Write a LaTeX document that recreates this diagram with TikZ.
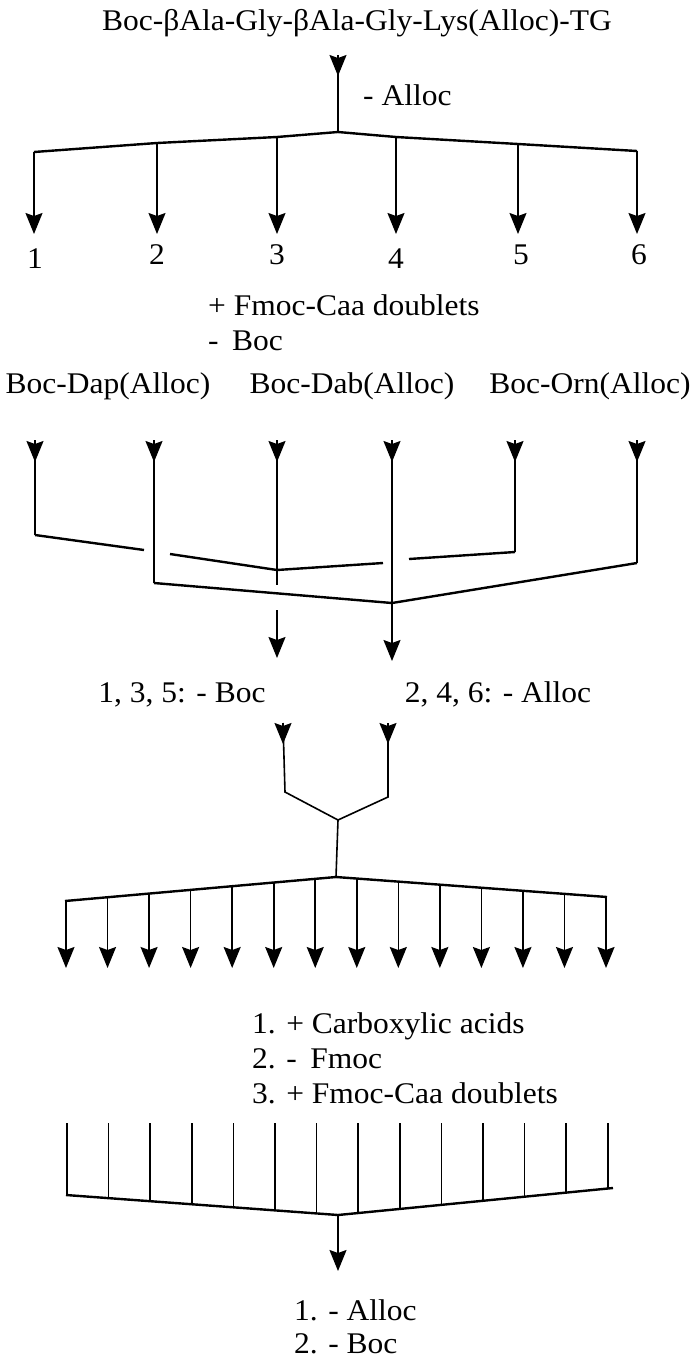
\documentclass[tikz,border=0pt]{standalone}
\usepackage{fontspec}
\setmainfont{Liberation Serif}[FakeStretch=1.05]
\usetikzlibrary{arrows.meta}
\begin{document}
\begin{tikzpicture}[x=1pt,y=-1pt,
  lbl/.style={font=\fontsize{30}{35}\selectfont, inner sep=0pt},
  ln/.style={line width=1.6pt},
  br/.style={line width=2.4pt, line join=round},
  head/.style={-{Stealth[length=21pt,width=17pt,inset=3pt]}, line width=1.6pt},
]
\useasboundingbox[fill=white] (0,0) rectangle (690,1358);

% ---------- title and first split ----------
\node[lbl, anchor=base] (title) at (357,30) {Boc-βAla-Gly-βAla-Gly-Lys(Alloc)-TG};
\coordinate (t0) at (338,55);
\coordinate (apex1) at (338,132);
\draw[ln] (t0) -- (apex1);
\draw[head] (t0) -- ++(0,21);
\node[lbl, anchor=base west] (alloc1) at (363,105) {- Alloc};

\coordinate (b1) at (34,152);
\coordinate (b2) at (157,143);
\coordinate (b3) at (277,137);
\coordinate (b4) at (396,137);
\coordinate (b5) at (518,144);
\coordinate (b6) at (637,151);
\draw[br] (b1) -- (b2) -- (b3) -- (apex1) -- (b4) -- (b5) -- (b6);
\foreach \i/\nx/\ny in {1/35/268,2/157/264,3/277/264,4/396/268,5/521/264,6/639/264}{
  \coordinate (e\i) at (b\i |- 0,234);
  \draw[head] (b\i) -- (e\i);
  \node[lbl, anchor=base] (n\i) at (\nx,\ny) {\i};
}

\node[lbl, anchor=base west] (fmoc1) at (208,315) {+ Fmoc-Caa doublets};
\node[lbl, anchor=base west] (boc1) at (208,350) {-\hspace{0.45em}Boc};
\node[lbl, anchor=base] (dap) at (108,393) {Boc-Dap(Alloc)};
\node[lbl, anchor=base] (dab) at (352,393) {Boc-Dab(Alloc)};
\node[lbl, anchor=base] (orn) at (590,393) {Boc-Orn(Alloc)};

% ---------- second section ----------
\foreach \i/\x in {1/35,2/154,3/277,4/392,5/515,6/637}{
  \coordinate (s\i) at (\x,440);
}
\coordinate (g1) at (35,535);
\coordinate (g1e) at (144,550);
\coordinate (m1) at (170,554);
\coordinate (m2) at (277,570);
\coordinate (m3) at (383,563);
\coordinate (r1) at (409,559);
\coordinate (r2) at (515,552);
\coordinate (k1) at (154,583);
\coordinate (k2) at (392,603);
\coordinate (k3) at (637,563);
\coordinate (s3e) at (277,585);
\draw[br] (g1) -- (g1e);
\draw[br] (m1) -- (m2) -- (m3);
\draw[br] (r1) -- (r2);
\draw[br] (k1) -- (k2) -- (k3);
\draw[ln] (s3) -- (s3e);
\draw[ln] (s4) -- (k2);
\draw[ln] (s1) -- (g1);
\draw[ln] (s2) -- (k1);
\draw[ln] (s5) -- (r2);
\draw[ln] (s6) -- (k3);
\foreach \i in {1,...,6}{
  \draw[head] (s\i) -- ++(0,22);
}
\coordinate (d1) at (277,610);
\coordinate (d1e) at (277,658);
\coordinate (d2e) at (392,661);
\draw[head] (d1) -- (d1e);
\draw[head] (k2) -- (d2e);

\node[lbl, anchor=base] (odd) at (182,702) {1, 3, 5: - Boc};
\node[lbl, anchor=base] (even) at (498,702) {2, 4, 6: - Alloc};

% ---------- recombination ----------
\coordinate (y1) at (283,723);
\coordinate (y1b) at (285,792);
\coordinate (y2) at (388,723);
\coordinate (y2b) at (388,797);
\coordinate (yj) at (338,820);
\coordinate (apex3) at (336,877);
\draw[ln] (y1) -- (y1b) -- (yj) -- (y2b) -- (y2);
\draw[ln] (yj) -- (apex3);
\draw[head] (y1) -- ++(0,21);
\draw[head] (y2) -- ++(0,21);

\coordinate (L3) at (65,901);
\coordinate (R3) at (607,897);
\draw[br] (L3) -- (apex3) -- (R3);
\foreach \i in {0,...,13}{
  \pgfmathsetmacro\xx{66+\i*41.54}
  \pgfmathsetmacro\yy{\xx<=336 ? 901-(\xx-65)*24/271 : 877+(\xx-336)*20/271}
  \coordinate (p\i) at (\xx,\yy);
  \coordinate (q\i) at (\xx,968);
  \draw[head] (p\i) -- (q\i);
}

\node[lbl, anchor=base west] (st1) at (252,1033) {1. + Carboxylic acids};
\node[lbl, anchor=base west] (st2) at (252,1068) {2. -\hspace{0.45em}Fmoc};
\node[lbl, anchor=base west] (st3) at (252,1103) {3. + Fmoc-Caa doublets};

% ---------- final pooling ----------
\coordinate (L4) at (66,1195);
\coordinate (A4) at (338,1215);
\coordinate (R4) at (613,1188);
\foreach \i in {0,...,13}{
  \pgfmathsetmacro\xx{67+\i*41.6}
  \pgfmathsetmacro\yy{\xx<=338 ? 1195+(\xx-66)*20/272 : 1215-(\xx-338)*27/275}
  \coordinate (u\i) at (\xx,1123);
  \coordinate (v\i) at (\xx,\yy);
  \draw[ln] (u\i) -- (v\i);
}
\draw[br] (L4) -- (A4) -- (R4);
\coordinate (A4e) at (338,1271);
\draw[head] (A4) -- (A4e);

\node[lbl, anchor=base west] (f1) at (294,1320) {1. - Alloc};
\node[lbl, anchor=base west] (f2) at (294,1353) {2. - Boc};
\end{tikzpicture}
\end{document}
